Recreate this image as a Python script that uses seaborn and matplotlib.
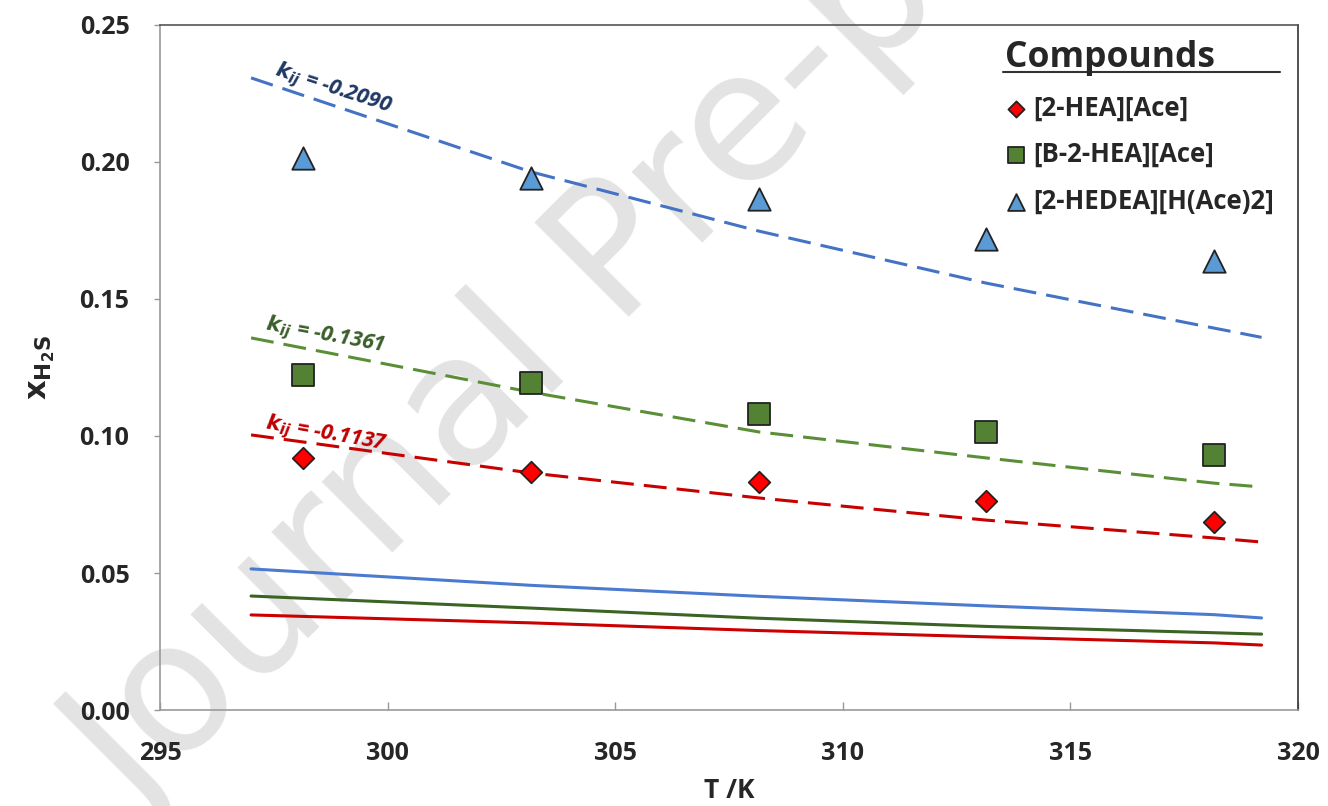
import numpy as np
import pandas as pd
import seaborn as sns
import matplotlib
matplotlib.use("Agg")
import matplotlib.pyplot as plt

sns.set_style("ticks")
plt.rcParams["font.family"] = ["Open Sans", "DejaVu Sans"]

# experimental points
T_exp = [298.15, 303.15, 308.15, 313.15, 318.15]
x_hea = [0.0920, 0.0869, 0.0832, 0.0763, 0.0686]
x_bhea = [0.1223, 0.1193, 0.1080, 0.1015, 0.0930]
x_hedea = [0.2015, 0.1940, 0.1865, 0.1720, 0.1640]

# model curves (dashed: fitted kij, solid: kij = 0)
T_mod = [297.0, 303.15, 308.15, 313.15, 318.15, 319.2]
fit_hea = [0.1004, 0.0865, 0.0774, 0.0693, 0.0628, 0.0613]
fit_bhea = [0.1358, 0.1160, 0.1015, 0.0920, 0.0828, 0.0814]
fit_hedea = [0.2307, 0.1964, 0.1748, 0.1558, 0.1394, 0.1360]
pred_hea = [0.0347, 0.0318, 0.0290, 0.0267, 0.0245, 0.0237]
pred_bhea = [0.0416, 0.0372, 0.0335, 0.0305, 0.0282, 0.0277]
pred_hedea = [0.0515, 0.0455, 0.0415, 0.0380, 0.0348, 0.0336]

names = ["[2-HEA][Ace]", "[B-2-HEA][Ace]", "[2-HEDEA][H(Ace)2]"]
kij = ["-0.1137", "-0.1361", "-0.2090"]

fig = plt.figure(figsize=(13.28, 8.06), dpi=100)
ax = fig.add_axes([0.1205, 0.1191, 0.8569, 0.8499])
ax.set_facecolor("none")

# watermark
fig.text(0.477, 0.689, "Journal Pre-proof", fontsize=130, color="#e3e3e3",
         rotation=45, ha="center", va="center", rotation_mode="anchor",
         family="DejaVu Sans", zorder=-5)

df_mod = pd.DataFrame({"T": T_mod, "fit_hea": fit_hea, "fit_bhea": fit_bhea,
                       "fit_hedea": fit_hedea, "pred_hea": pred_hea,
                       "pred_bhea": pred_bhea, "pred_hedea": pred_hedea})

dash = (0, (7.5, 3.3))
sns.lineplot(data=df_mod, x="T", y="fit_hedea", color="#4472c4", lw=2.2, ls=dash, ax=ax)
sns.lineplot(data=df_mod, x="T", y="fit_bhea", color="#5a8f37", lw=2.2, ls=dash, ax=ax)
sns.lineplot(data=df_mod, x="T", y="fit_hea", color="#c80000", lw=2.2, ls=dash, ax=ax)
sns.lineplot(data=df_mod, x="T", y="pred_hedea", color="#4a7bd0", lw=2.2, ax=ax)
sns.lineplot(data=df_mod, x="T", y="pred_bhea", color="#3b6323", lw=2.2, ax=ax)
sns.lineplot(data=df_mod, x="T", y="pred_hea", color="#cc0000", lw=2.2, ax=ax)

df_exp = pd.DataFrame({"T": T_exp, "hea": x_hea, "bhea": x_bhea, "hedea": x_hedea})
sns.scatterplot(data=df_exp, x="T", y="hea", marker="D", s=120, color="#ff0000",
                edgecolor="#222222", linewidth=1.3, label=names[0], zorder=5, ax=ax)
sns.scatterplot(data=df_exp, x="T", y="bhea", marker="s", s=230, color="#548235",
                edgecolor="#222222", linewidth=1.3, label=names[1], zorder=5, ax=ax)
sns.scatterplot(data=df_exp, x="T", y="hedea", marker="^", s=260, color="#5b9bd5",
                edgecolor="#222222", linewidth=1.3, label=names[2], zorder=5, ax=ax)

# kij labels
lab_style = dict(fontsize=15.5, fontweight="bold", fontstyle="italic", ha="left",
                 va="baseline", rotation_mode="anchor")
ax.text(297.5, 0.2318, r"$\mathbfit{k_{ij}}$ = " + kij[2], color="#203864",
        rotation=-18, **lab_style)
ax.text(297.3, 0.1387, r"$\mathbfit{k_{ij}}$ = " + kij[1], color="#3a5f2a",
        rotation=-10.5, **lab_style)
ax.text(297.3, 0.1029, r"$\mathbfit{k_{ij}}$ = " + kij[0], color="#c00000",
        rotation=-10, **lab_style)

ax.set_xlim(295, 320)
ax.set_ylim(0, 0.25)
ax.set_xticks(np.arange(295, 321, 5))
ax.set_yticks(np.arange(0, 0.251, 0.05))
ax.yaxis.set_major_formatter(matplotlib.ticker.FormatStrFormatter("%.2f"))
ax.tick_params(axis="x", direction="in", length=6, width=1, color="#999999",
               labelsize=18, pad=22)
ax.tick_params(axis="y", direction="out", length=4, width=1, color="#999999",
               labelsize=18, pad=18)
for lab in ax.get_xticklabels() + ax.get_yticklabels():
    lab.set_fontweight("bold")
for sp in ax.spines.values():
    sp.set_visible(True)
    sp.set_color("#9a9a9a")
    sp.set_linewidth(1.2)
ax.spines["right"].set_color("#333333")
ax.spines["top"].set_color("#555555")

ax.set_xlabel("T /K", fontsize=19, fontweight="bold", labelpad=8)
ax.set_ylabel(r"$\mathbf{x_{H_2S}}$", fontsize=22, labelpad=16)

leg = ax.legend(title="Compounds", loc="upper right", frameon=False, fontsize=18.5,
                title_fontsize=25.5, handletextpad=0.3, handlelength=0.8,
                labelspacing=0.75, markerscale=0.75, bbox_to_anchor=(0.995, 1.005),
                borderaxespad=0.3)
leg.get_title().set_fontweight("bold")
leg._legend_box.align = "left"
for t in leg.get_texts():
    t.set_fontweight("bold")
ax.plot([0.741, 0.984], [0.931, 0.931], transform=ax.transAxes, color="#333333",
        lw=1.5, clip_on=False)

fig.savefig("out.png", dpi=100)
